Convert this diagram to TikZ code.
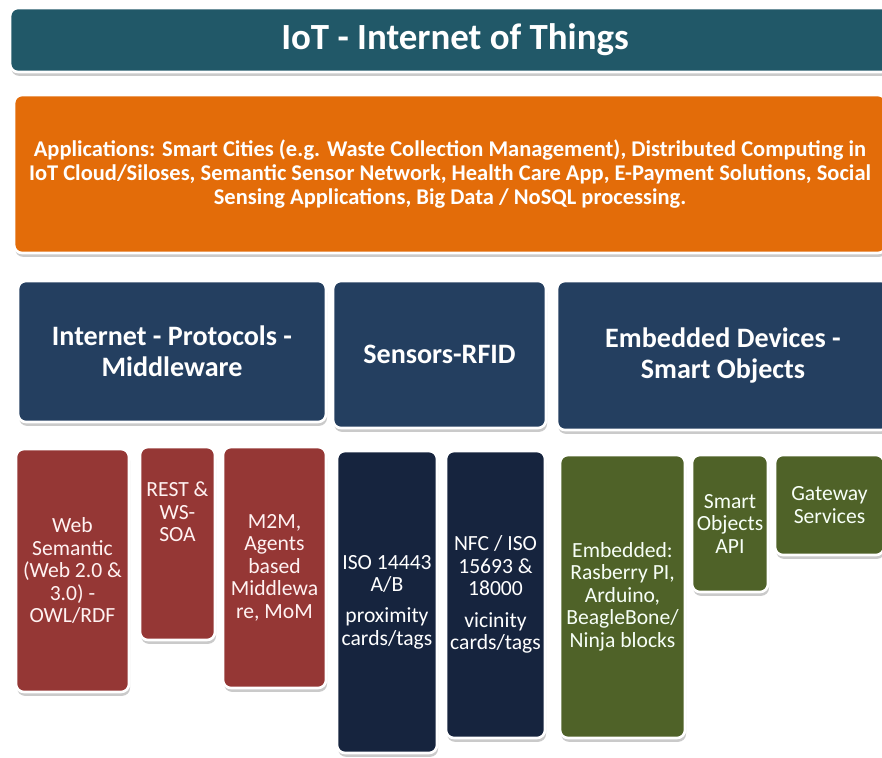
\documentclass[tikz,border=0pt]{standalone}
\usepackage{fontspec}
\setmainfont{Carlito}
\usetikzlibrary{positioning,shadows}

\definecolor{titleteal}{HTML}{215868}
\definecolor{apporange}{HTML}{E36C09}
\definecolor{headnavy}{HTML}{243F60}
\definecolor{tagnavy}{HTML}{16243E}
\definecolor{protored}{HTML}{953735}
\definecolor{devgreen}{HTML}{4F6228}

\begin{document}
\begin{tikzpicture}[
  x=0.02cm,y=-0.02cm,
  box/.style={draw=white,line width=1.5pt,rounded corners=4.5pt,align=center,
              text=white,inner sep=2pt,
              drop shadow={shadow xshift=0.6pt,shadow yshift=-2.2pt,
                           opacity=0.35,fill=black!60}},
  head/.style={box,fill=headnavy,font=\fontsize{16}{17.6}\selectfont\bfseries},
  leaf/.style={box,font=\fontsize{12.3}{12.8}\selectfont},
  proto/.style={leaf,fill=protored,text=red!5},
  tag/.style={leaf,fill=tagnavy},
  dev/.style={leaf,fill=devgreen,text=green!3!white},
  lbl/.style={align=center,inner sep=0pt,font=\fontsize{12.3}{12.8}\selectfont}
]
\useasboundingbox (0,0) rectangle (882,757);
\clip (0,0) rectangle (882,757);

% top layers
\node[box,fill=titleteal,minimum width=17.8cm,minimum height=1.28cm,
      font=\fontsize{21}{24}\selectfont\bfseries] (title) at (455,40)
      {IoT - Internet of Things};
\node[box,fill=apporange,minimum width=17.44cm,minimum height=3.16cm,
      font=\fontsize{12.8}{13.6}\selectfont\bfseries] (apps) at (450,174)
      {Applications: Smart Cities (e.g. Waste Collection Management), Distributed Computing in\\
       IoT Cloud/Siloses, Semantic Sensor Network, Health Care App, E-Payment Solutions, Social\\
       Sensing Applications, Big Data / NoSQL processing.};

% the three pillars
\node[head,minimum width=6.16cm,minimum height=2.82cm] (inet) at (172,351.5)
      {Internet - Protocols -\\Middleware};
\node[head,minimum width=4.26cm,minimum height=2.94cm] (rfid) at (439.5,354.5)
      {Sensors-RFID};
\node[head,minimum width=6.64cm,minimum height=2.98cm] (embd) at (723,355.5)
      {Embedded Devices -\\Smart Objects};

% internet / middleware
\node[proto,minimum width=2.26cm,minimum height=4.86cm] (web) at (72.5,570.5)
      {Web\\Semantic\\(Web 2.0 \&\\3.0) -\\OWL/RDF};
\node[proto,minimum width=1.5cm,minimum height=3.86cm] (rest) at (177.5,543.5) {};
\node[lbl,text=red!5,below=0.72cm of rest.north] (restlbl) {REST \&\\WS-\\SOA};
\node[proto,minimum width=2.06cm,minimum height=4.82cm] (mtom) at (274.5,567.5)
      {M2M,\\Agents\\based\\Middlewa\\re, MoM};

% sensors / rfid
\node[tag,minimum width=2cm,minimum height=6.04cm] (iso) at (387,602)
      {ISO 14443\\A/B\\[5pt]proximity\\cards/tags};
\node[tag,minimum width=1.98cm,minimum height=5.74cm] (nfc) at (495.5,594.5)
      {NFC / ISO\\15693 \&\\18000\\[5pt]vicinity\\cards/tags};

% devices / smart objects
\node[dev,minimum width=2.5cm,minimum height=5.66cm] (board) at (622.5,596.5)
      {Embedded:\\Rasberry PI,\\Arduino,\\BeagleBone/\\Ninja blocks};
\node[dev,minimum width=1.52cm,minimum height=2.74cm] (api) at (730,523.5)
      {Smart\\Objects\\API};
\node[dev,minimum width=2.18cm,minimum height=2cm] (gw) at (829.5,505)
      {Gateway\\Services};
\end{tikzpicture}
\end{document}
